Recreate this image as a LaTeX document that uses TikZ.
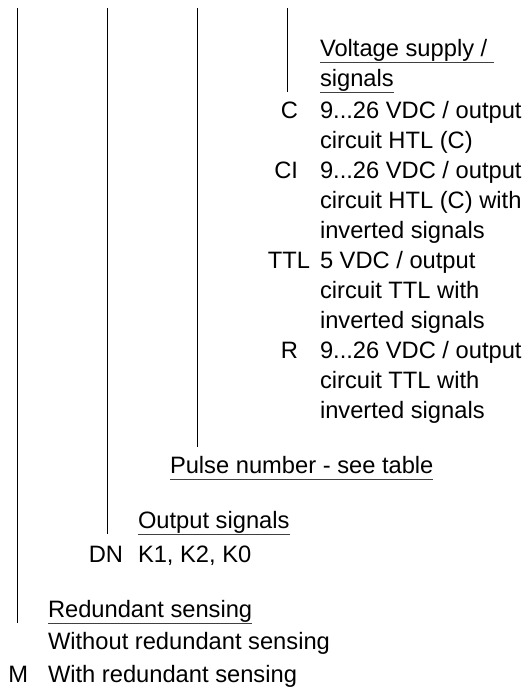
\documentclass[tikz,border=0pt]{standalone}
\usepackage{fontspec}
\setmainfont{Liberation Sans}
\usetikzlibrary{positioning, calc}

\begin{document}
\begin{tikzpicture}[x=1pt, y=-1pt,
    txt/.style={inner sep=0pt, outer sep=0pt, anchor=base west, align=left,
                font=\fontsize{23.7}{30}\selectfont},
    code/.style={txt, anchor=base east},
    uline/.style={line width=1pt, black!75},
    bar/.style={line width=1pt}]
\useasboundingbox (0,0) rectangle (529,689);

% Voltage supply / signals (multi-line texts sit on their last baseline)
\node[txt] (vs1) at (320,56) {Voltage supply /\ };
\node[txt] (vs2) at (320,86) {signals};
\node[code] (cC) at (298,118) {C};
\node[txt] (dC) at (320,148) {9...26 VDC / output\\circuit HTL (C)};
\node[code] (cCI) at (298,178) {CI};
\node[txt] (dCI) at (320,238) {9...26 VDC / output\\circuit HTL (C) with\\inverted signals};
\node[code] (cTTL) at (310,268) {TTL};
\node[txt] (dTTL) at (320,328) {5 VDC / output\\circuit TTL with\\inverted signals};
\node[code] (cR) at (298,358) {R};
\node[txt] (dR) at (320,418) {9...26 VDC / output\\circuit TTL with\\inverted signals};

% Pulse number
\node[txt] (pn) at (170,473) {Pulse number - see table};

% Output signals
\node[txt] (os) at (138,528) {Output signals};
\node[code] (cDN) at (123,562) {DN};
\node[txt] (dDN) at (138,562) {K1, K2, K0};

% Redundant sensing
\node[txt] (rs) at (48,617) {Redundant sensing};
\node[txt] (dNone) at (48,649) {Without redundant sensing};
\node[code] (cM) at (28,682) {M};
\node[txt] (dM) at (48,682) {With redundant sensing};

% underlined headings
\foreach \h in {vs1, vs2, pn, os, rs}
  \draw[uline] ([yshift=-6pt]\h.base west) -- ([yshift=-6pt]\h.base east);

% vertical bars
\coordinate (t1) at (17,8);
\coordinate (t2) at (107,8);
\coordinate (t3) at (197,8);
\coordinate (t4) at (287,8);
\coordinate (e3) at (197,447);
\coordinate (rsU) at ([yshift=-6pt]rs.base west);
\coordinate (osU) at ([yshift=-6pt]os.base west);
\coordinate (vsU) at ([yshift=-6pt]vs2.base west);
\draw[bar] (t1) -- (t1 |- rsU);
\draw[bar] (t2) -- (t2 |- osU);
\draw[bar] (t3) -- (e3);
\draw[bar] (t4) -- (t4 |- vsU);
\end{tikzpicture}
\end{document}
